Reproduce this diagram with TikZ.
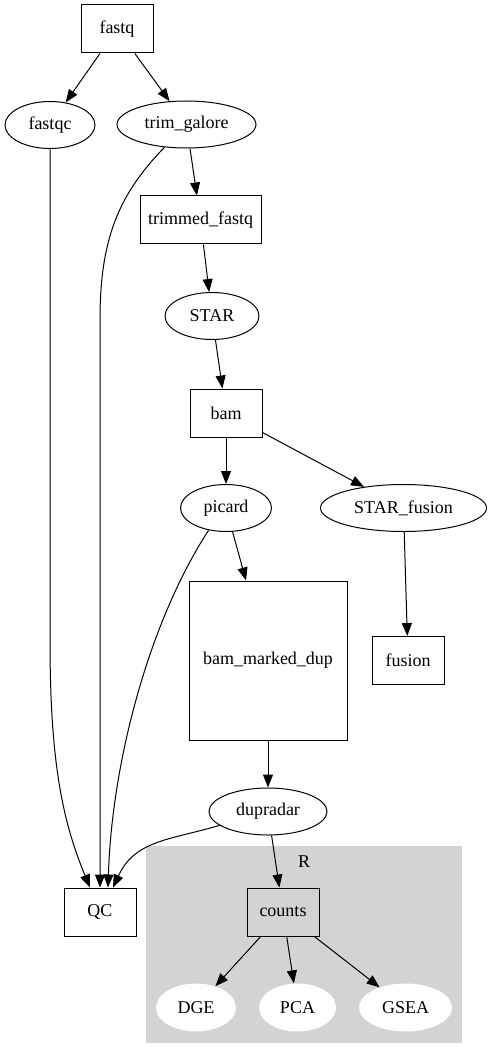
\documentclass[tikz,border=0pt]{standalone}
\usepackage{fontspec}
\setmainfont{Liberation Serif}
\usetikzlibrary{shapes.geometric,arrows.meta,calc}
\definecolor{clustergray}{RGB}{211,211,211}
\begin{document}
\begin{tikzpicture}[x=1pt,y=-1pt,
  every node/.style={font=\fontsize{18}{20}\selectfont, inner sep=0pt},
  boxn/.style 2 args={draw, line width=1pt, rectangle, minimum width=#1, minimum height=#2},
  elln/.style 2 args={draw, line width=1pt, ellipse, minimum width=#1, minimum height=#2},
  welln/.style 2 args={fill=white, ellipse, minimum width=#1, minimum height=#2},
  conn/.style={draw, line width=1pt, -{Triangle[length=13pt,width=10pt]}}
]
\useasboundingbox (0,0) rectangle (492,1059);
% cluster R
\fill[clustergray] (146,846) rectangle (462,1043);
\node (Rlabel) at (304,862) {R};

\node[boxn={72}{48}] (fastq) at (117,29) {fastq};
\node[elln={90}{47}] (fastqc) at (50,125) {fastqc};
\node[elln={139}{47}] (trim) at (186.5,124.5) {trim\_galore};
\node[boxn={121}{48}] (trimmed) at (200.5,220) {trimmed\_fastq};
\node[elln={94}{47}] (star) at (212,316) {STAR};
\node[boxn={72}{48}] (bam) at (226,413) {bam};
\node[elln={91}{47}] (picard) at (226,508) {picard};
\node[elln={166}{47}] (starf) at (403.5,508) {STAR\_fusion};
\node[boxn={158}{159}] (bmd) at (268,660.5) {bam\_marked\_dup};
\node[boxn={72}{48}] (fusion) at (408,660.5) {fusion};
\node[elln={118}{47}] (dupradar) at (268,811.5) {dupradar};
\node[boxn={72}{48}, fill=clustergray] (counts) at (283,912) {counts};
\node[boxn={72}{48}] (QC) at (100,912) {QC};
\node[welln={80}{48}] (DGE) at (196,1007.5) {DGE};
\node[welln={77}{48}] (PCA) at (297.5,1007.5) {PCA};
\node[welln={93}{48}] (GSEA) at (405.5,1007.5) {GSEA};

\draw[conn] (fastq) -- (fastqc);
\draw[conn] (fastq) -- (trim);
\draw[conn] (trim) -- (trimmed);
\draw[conn] (trimmed) -- (star);
\draw[conn] (star) -- (bam);
\draw[conn] (bam) -- (picard);
\draw[conn] (bam) -- (starf);
\draw[conn] (picard) -- (bmd);
\draw[conn] (starf) -- (fusion);
\draw[conn] (bmd) -- (dupradar);
\draw[conn] (dupradar) -- (counts);
\draw[conn] (counts) -- (DGE);
\draw[conn] (counts) -- (PCA);
\draw[conn] (counts) -- (GSEA);

% edges to QC
\draw[conn] (fastqc.south) -- (50,640) .. controls (50,760) and (62,820) .. ([xshift=-10pt]QC.north);
\draw[conn] (trim.226) .. controls (118,195) and (100,240) .. (100,320) -- (QC.north);
\draw[conn] (picard.232) .. controls (150,620) and (112,760) .. ([xshift=8pt]QC.north);
\draw[conn] (dupradar.196) .. controls (170,840) and (135,840) .. ([xshift=13pt]QC.north);
\end{tikzpicture}
\end{document}
